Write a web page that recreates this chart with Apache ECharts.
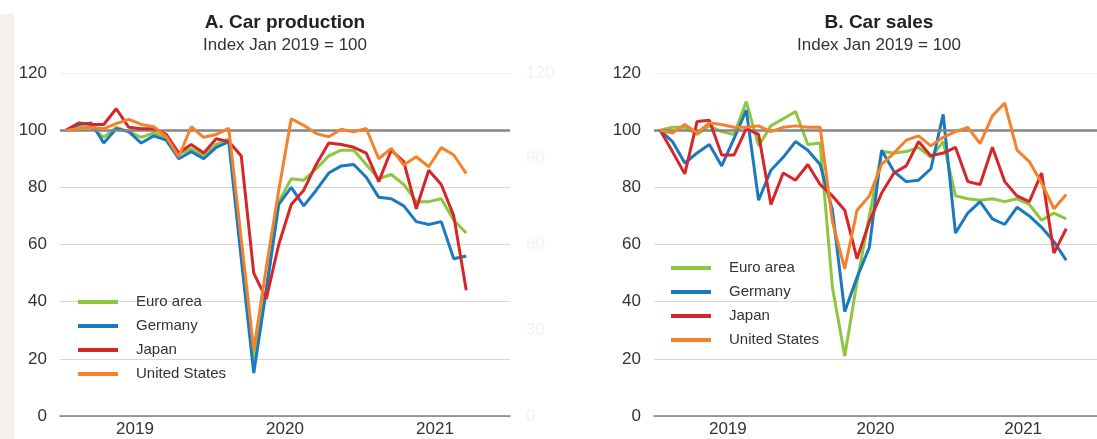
<!DOCTYPE html>
<html>
<head>
<meta charset="utf-8">
<title>Car production and sales</title>
<script src="https://cdn.jsdelivr.net/npm/echarts@6/dist/echarts.min.js"></script>
<style>
    html, body { margin: 0; padding: 0; background: #ffffff; }
    #main { width: 1097px; height: 439px; }
</style>
</head>
<body>
<div id="main"></div>
<script>
// month categories Jan 2019 .. Dec 2021, years shown under the axis
var months = [];
for (var y = 2019; y <= 2021; y++) {
    for (var m = 1; m <= 12; m++) {
        months.push(y + '-' + (m < 10 ? '0' + m : m));
    }
}
var years = ['2019', '2020', '2021'];
var names = ['Euro area', 'Germany', 'Japan', 'United States'];
var colors = ['#8dc63f', '#1b79c0', '#d7262b', '#f5822a'];

// A. Car production, index Jan 2019 = 100 (Jan 2019 .. Sep 2021)
var prodEuro = [100, 101, 101, 97.5, 101, 99.5, 97.5, 99, 97.5, 91.5, 93.5, 91, 95, 97, 60, 20, 44, 75, 83, 82.5, 86.5, 91, 93, 93, 88, 83, 84.5, 81, 75, 75, 76, 68.5, 64];
var prodGer = [100, 102, 102.5, 95.5, 100.5, 99.5, 95.5, 98, 96.5, 90, 92.5, 90, 94, 96, 55, 15, 44, 74, 80, 73.5, 79, 85, 87.5, 88, 83.5, 76.5, 76, 73.5, 68, 67, 68, 55, 56];
var prodJpn = [100, 102.5, 102, 102, 107.5, 101, 100.5, 100.5, 98.5, 92, 95, 92, 97, 96, 91, 50, 41, 60, 74, 79, 88, 95.5, 95, 94, 92, 82, 93, 89, 72.5, 86, 81, 70, 44];
var prodUS = [100, 100.5, 101, 100.5, 102.3, 103.8, 102, 101.2, 97.7, 90.7, 101.2, 97.5, 98.5, 100.6, 62, 23, 52, 79, 104, 101.7, 98.8, 97.7, 100.3, 99.4, 100.6, 90, 93.6, 87.8, 90.7, 87.2, 93.9, 91.3, 84.8];

// B. Car sales, index Jan 2019 = 100 (Jan 2019 .. Oct 2021)
var salesEuro = [100, 101, 101, 98.5, 101.5, 99.5, 98.5, 110, 94.5, 101.5, 104, 106.5, 95, 95.5, 45, 21, 47, 70, 92.5, 92, 92.5, 94, 90.5, 96, 77, 76, 75.5, 76, 75, 76, 74, 68.5, 71, 69];
var salesGer = [100, 96, 88.5, 92, 95, 87.5, 97, 107, 75.5, 86, 90.5, 96, 93, 88, 72, 36.5, 48.5, 59, 93, 85.5, 82, 82.5, 86.5, 105.5, 64, 71, 75, 69, 67, 73, 70, 66, 61, 54.5];
var salesJpn = [100, 92.5, 84.7, 103, 103.5, 91.3, 91.3, 100.5, 98.5, 74, 85, 82.5, 88, 81, 77, 72, 55, 68, 78, 85, 87.5, 96, 91, 92, 94, 82, 81, 94, 82, 77, 75, 85, 57, 65.5];
var salesUS = [100, 99, 102, 99, 102.5, 102, 101, 101, 101.5, 99.5, 101, 101.5, 101, 101, 68, 51.5, 72, 77, 88, 92, 96.5, 98, 94.5, 97.5, 99.5, 101, 95.3, 105, 109.5, 93, 89, 81.5, 72.5, 77.5];

var prodData = [prodEuro, prodGer, prodJpn, prodUS];
var salesData = [salesEuro, salesGer, salesJpn, salesUS];

var font = 'Liberation Sans, Arial, sans-serif';
var textColor = '#333333';

// x axes: a month axis (ticks every quarter) and a year axis (labels only)
function monthAxis(grid) {
    return {
        type: 'category', gridIndex: grid, data: months, position: 'bottom',
        boundaryGap: true,
        axisLine: { lineStyle: { color: '#7f7f7f', width: 1.5 } },
        axisTick: { inside: true, length: 7, lineStyle: { color: '#9a9a9a' },
            interval: function (idx) { return idx % 3 === 0; } },
        axisLabel: { show: false },
        splitLine: { show: false }
    };
}
function yearAxis(grid) {
    return {
        type: 'category', gridIndex: grid, data: years, position: 'bottom',
        boundaryGap: true,
        axisLine: { show: false }, axisTick: { show: false },
        axisLabel: { color: textColor, fontSize: 17, fontFamily: font, margin: 5 }
    };
}
function valueAxis(grid) {
    return {
        type: 'value', gridIndex: grid, min: 0, max: 120, interval: 20,
        axisLine: { show: false }, axisTick: { show: false },
        axisLabel: { color: textColor, fontSize: 17, fontFamily: font, margin: 13 },
        splitLine: { lineStyle: { width: 1,
            color: ['#d6d6d6', '#d6d6d6', '#d6d6d6', '#d6d6d6', '#d6d6d6', '#d6d6d6', '#eeeeee'] } }
    };
}

function makeSeries(data, xIdx, yIdx) {
    var out = [];
    for (var i = 0; i < names.length; i++) {
        var s = {
            name: names[i], type: 'line', xAxisIndex: xIdx, yAxisIndex: yIdx,
            data: data[i], symbol: 'none', smooth: false,
            lineStyle: { color: colors[i], width: 3 },
            itemStyle: { color: colors[i] },
            z: 3 + i
        };
        if (i === 0) {
            // the 100 reference line
            s.markLine = {
                silent: true, symbol: 'none', label: { show: false },
                lineStyle: { color: '#858585', width: 2.5, type: 'solid' },
                data: [{ yAxis: 100 }]
            };
        }
        out.push(s);
    }
    return out;
}

function legendAt(left, top) {
    return {
        orient: 'vertical', left: left, top: top, data: names,
        icon: 'rect', itemWidth: 40, itemHeight: 4, itemGap: 8,
        textStyle: { color: textColor, fontSize: 15, fontFamily: font, lineHeight: 16, padding: [0, 0, 0, 13] },
        selectedMode: false
    };
}

var myChart = echarts.init(document.getElementById('main'), null, { renderer: 'canvas' });

var option = {
    backgroundColor: '#ffffff',
    animation: false,
    textStyle: { fontFamily: font },
    grid: [
        { left: 60, top: 73, width: 450, height: 343 },
        { left: 654, top: 73, width: 450, height: 343 }
    ],
    xAxis: [monthAxis(0), yearAxis(0), monthAxis(1), yearAxis(1)],
    yAxis: [
        valueAxis(0),
        {   // faint right-hand scale of panel A
            type: 'value', gridIndex: 0, position: 'right', min: 0, max: 120, interval: 30,
            axisLine: { show: false }, axisTick: { show: false }, splitLine: { show: false },
            axisLabel: { color: '#f2f2f2', fontSize: 17, fontFamily: font, margin: 16 }
        },
        valueAxis(1)
    ],
    legend: [legendAt(73, 289), legendAt(666, 255)],
    graphic: [
        { type: 'rect', shape: { x: 0, y: 14, width: 14, height: 425 }, style: { fill: '#f5f1ec' }, z: -1 },
        { type: 'text', x: 285, y: 23, style: { text: 'A. Car production', fill: '#222', font: 'bold 19px ' + font, textAlign: 'center', textVerticalAlign: 'middle' } },
        { type: 'text', x: 285, y: 45, style: { text: 'Index Jan 2019 = 100', fill: textColor, font: '17px ' + font, textAlign: 'center', textVerticalAlign: 'middle' } },
        { type: 'text', x: 879, y: 23, style: { text: 'B. Car sales', fill: '#222', font: 'bold 19px ' + font, textAlign: 'center', textVerticalAlign: 'middle' } },
        { type: 'text', x: 879, y: 45, style: { text: 'Index Jan 2019 = 100', fill: textColor, font: '17px ' + font, textAlign: 'center', textVerticalAlign: 'middle' } }
    ],
    series: makeSeries(prodData, 0, 0).concat(makeSeries(salesData, 2, 2))
};

myChart.setOption(option);
</script>
</body>
</html>
